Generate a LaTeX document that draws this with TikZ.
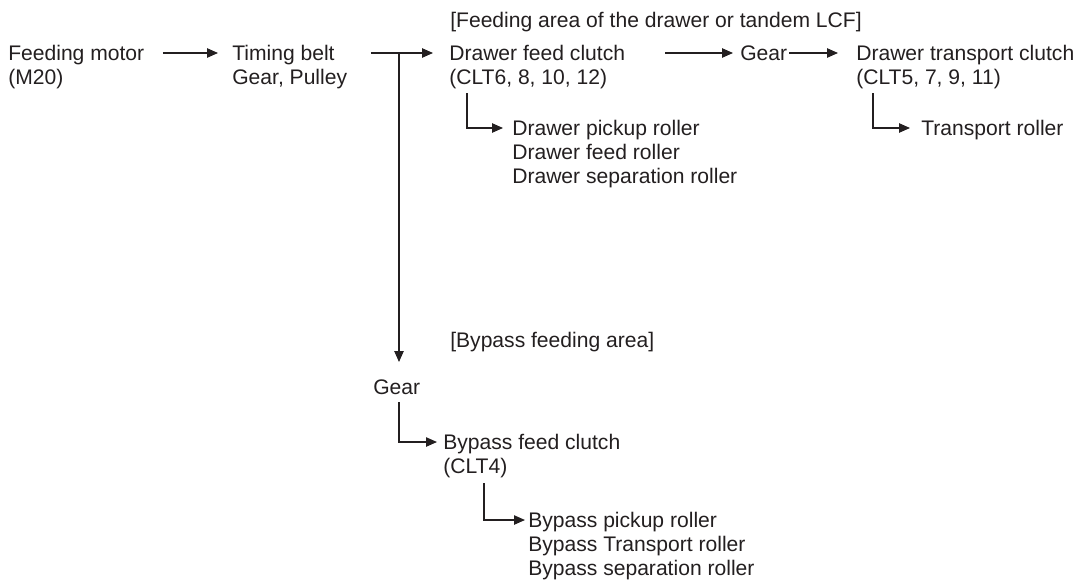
\documentclass[tikz,border=0pt]{standalone}
\usepackage{fontspec}
\setmainfont{Liberation Sans}
\usepackage{xcolor}
\definecolor{txtgray}{RGB}{35,31,32}
\usetikzlibrary{arrows.meta, calc}

\tikzset{
  lbl/.style={anchor=north west, inner sep=0pt, align=left, txtgray,
              font=\fontsize{15}{17}\selectfont},
  arr/.style={txtgray, line width=0.9pt, -{Triangle[length=0.27cm, width=0.23cm]}}
}

\begin{document}
\begin{tikzpicture}

\useasboundingbox (0,0) rectangle (27.1,-14.575);

% === Main row ===
\node[lbl] (motor) at (0.2,-1.125) {Feeding motor\\(M20)};
\node[lbl] (belt) at (5.8,-1.125) {Timing belt\\Gear, Pulley};
\node[lbl] (drawerarea) at (11.25,-0.3) {[Feeding area of the drawer or tandem LCF]};
\node[lbl] (feedclutch) at (11.225,-1.125) {Drawer feed clutch\\(CLT6, 8, 10, 12)};
\node[lbl] (geara) at (18.5,-1.125) {Gear};
\node[lbl] (transclutch) at (21.4,-1.125) {Drawer transport clutch\\(CLT5, 7, 9, 11)};

% === Drawer rollers ===
\node[lbl] (feedrollers) at (12.8,-3.0) {Drawer pickup roller\\Drawer feed roller\\Drawer separation roller};
\node[lbl] (transroller) at (23.025,-3.0) {Transport roller};

% === Bypass side ===
\node[lbl] (bypassarea) at (11.25,-8.3) {[Bypass feeding area]};
\node[lbl] (gearb) at (9.325,-9.475) {Gear};
\node[lbl] (bypassclutch) at (11.075,-10.85) {Bypass feed clutch\\(CLT4)};
\node[lbl] (bypassrollers) at (13.2,-12.8) {Bypass pickup roller\\Bypass Transport roller\\Bypass separation roller};

% === Connectors ===
\coordinate (split) at ([shift={(-1.25,-0.2)}]feedclutch.north west);
\draw[arr] ([shift={(0.46,-0.2)}]motor.north east) -- ([shift={(-0.35,-0.2)}]belt.north west);
\draw[arr] ([shift={(0.585,-0.2)}]belt.north east) -- ([shift={(-0.4,-0.2)}]feedclutch.north west);
\draw[arr] (split) -- ([yshift=0.425cm]split |- gearb.north);
\draw[arr] ([shift={(-1.875,-0.2)}]geara.north west) -- ([shift={(-0.175,-0.2)}]geara.north west);
\draw[arr] ([shift={(0.05,-0.2)}]geara.north east) -- ([shift={(-0.45,-0.2)}]transclutch.north west);

% branches
\draw[arr] ([shift={(0.45,-0.1)}]feedclutch.south west) |- ([shift={(-0.225,-0.2)}]feedrollers.north west);
\draw[arr] ([shift={(0.425,-0.1)}]transclutch.south west) |- ([shift={(-0.275,-0.2)}]transroller.north west);
\draw[arr] ([shift={(0.65,-0.2)}]gearb.south west) |- ([shift={(-0.15,-0.2)}]bypassclutch.north west);
\draw[arr] ([shift={(1.025,-0.125)}]bypassclutch.south west) |- ([shift={(-0.075,-0.2)}]bypassrollers.north west);

\end{tikzpicture}
\end{document}
